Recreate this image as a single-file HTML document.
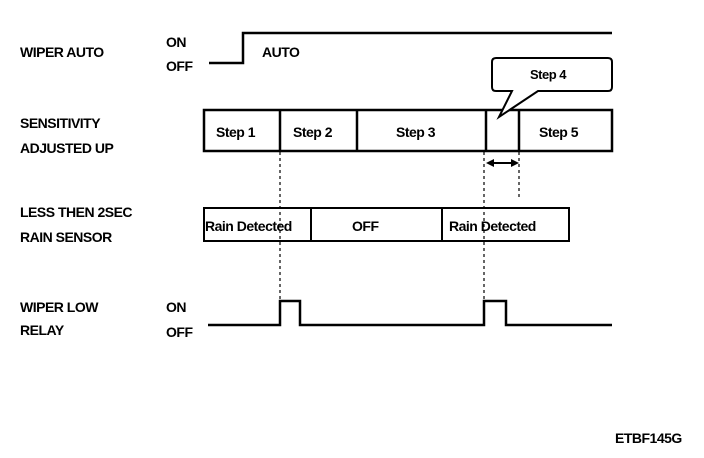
<!DOCTYPE html>
<html><head><style>body{margin:0;background:#fff}svg{display:block}</style></head><body>
<svg width="704" height="458" xmlns="http://www.w3.org/2000/svg" font-family="Liberation Sans, Arial, sans-serif" font-weight="bold" font-size="14" letter-spacing="-0.5">
<g fill="none" stroke="#000" stroke-width="2.5">
<polyline points="209,63 243,63 243,33 612,33"/>
<rect x="204" y="110" width="408" height="41"/>
<line x1="280" y1="110" x2="280" y2="151"/>
<line x1="357" y1="110" x2="357" y2="151"/>
<line x1="486" y1="110" x2="486" y2="151"/>
<line x1="519" y1="110" x2="519" y2="151"/>
<rect x="204" y="208" width="365" height="33" stroke-width="2"/>
<line x1="311" y1="208" x2="311" y2="241" stroke-width="2"/>
<line x1="442" y1="208" x2="442" y2="241" stroke-width="2"/>
<polyline points="208,325 280,325 280,301 300,301 300,325 484,325 484,301 506,301 506,325 612,325"/>
<path d="M512,91 L496,91 Q492,91 492,87 L492,62 Q492,58 496,58 L608,58 Q612,58 612,62 L612,87 Q612,91 608,91 L538,91 L499,117 Z" fill="#fff" stroke-width="2"/>
</g>
<g stroke="#000" stroke-width="1.2" stroke-dasharray="3,3">
<line x1="280" y1="152" x2="280" y2="300"/>
<line x1="484" y1="152" x2="484" y2="300"/>
<line x1="519" y1="152" x2="519" y2="200"/>
</g>
<line x1="490" y1="163" x2="515" y2="163" stroke="#000" stroke-width="2"/>
<polygon points="486,163 494,159 494,167" fill="#000"/>
<polygon points="519,163 511,159 511,167" fill="#000"/>
<g fill="#000">
<text x="20" y="57">WIPER AUTO</text>
<text x="166" y="47">ON</text>
<text x="166" y="71">OFF</text>
<text x="20" y="128">SENSITIVITY</text>
<text x="20" y="153">ADJUSTED UP</text>
<text x="20" y="217">LESS THEN 2SEC</text>
<text x="20" y="242">RAIN SENSOR</text>
<text x="20" y="312">WIPER LOW</text>
<text x="20" y="335">RELAY</text>
<text x="166" y="312">ON</text>
<text x="166" y="337">OFF</text>
<text x="262" y="57">AUTO</text>
<text x="216" y="137">Step 1</text>
<text x="293" y="137">Step 2</text>
<text x="396" y="137">Step 3</text>
<text x="539" y="137">Step 5</text>
<text x="530" y="79" font-size="13">Step 4</text>
<text x="205" y="231">Rain Detected</text>
<text x="352" y="231">OFF</text>
<text x="449" y="231">Rain Detected</text>
<text x="615" y="443">ETBF145G</text>
</g>
</svg>
</body></html>
